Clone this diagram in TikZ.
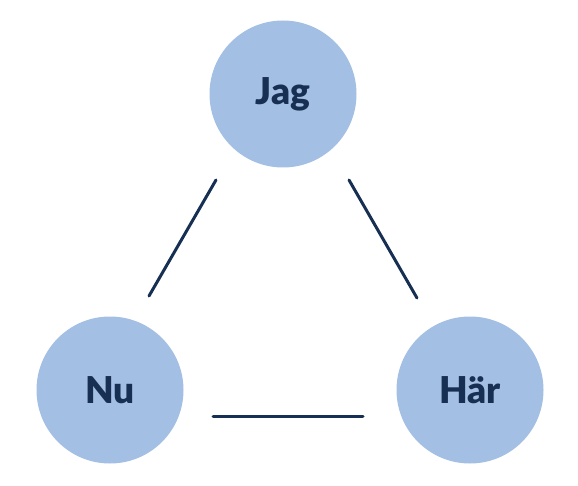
\documentclass[tikz,border=0pt]{standalone}
\usepackage{fontspec}
\setmainfont{Lato}
\newfontfamily\tjock{Lato Black}
\usepackage{tikz}
\definecolor{ljusbla}{HTML}{A3BFE3}
\definecolor{morkbla}{HTML}{172F52}
\begin{document}
\begin{tikzpicture}[x=1pt,y=-1pt,
    cirkel/.style={circle,fill=ljusbla,text=morkbla,minimum size=147pt,inner sep=0pt,
      font=\tjock\fontsize{37}{37}\selectfont},
    linje/.style={draw=morkbla,line width=3pt,line cap=round}]
      \useasboundingbox (0,0) rectangle (578,486);
      % Cirklar
      \node[cirkel] (jag) at (283,94) {Jag};
      \node[cirkel] (nu) at (110,390) {Nu};
      \node[cirkel] (har) at (470,390) {Här};
      % Linjer
      \draw[linje] ([shift={(-67,86)}]jag.center) -- ([shift={(39,-94)}]nu.center);
      \draw[linje] ([shift={(66,86)}]jag.center) -- ([shift={(-53,-92)}]har.center);
      \draw[linje] ([shift={(103,26)}]nu.center) -- ([shift={(-107,26)}]har.center);
    \end{tikzpicture}
\end{document}
